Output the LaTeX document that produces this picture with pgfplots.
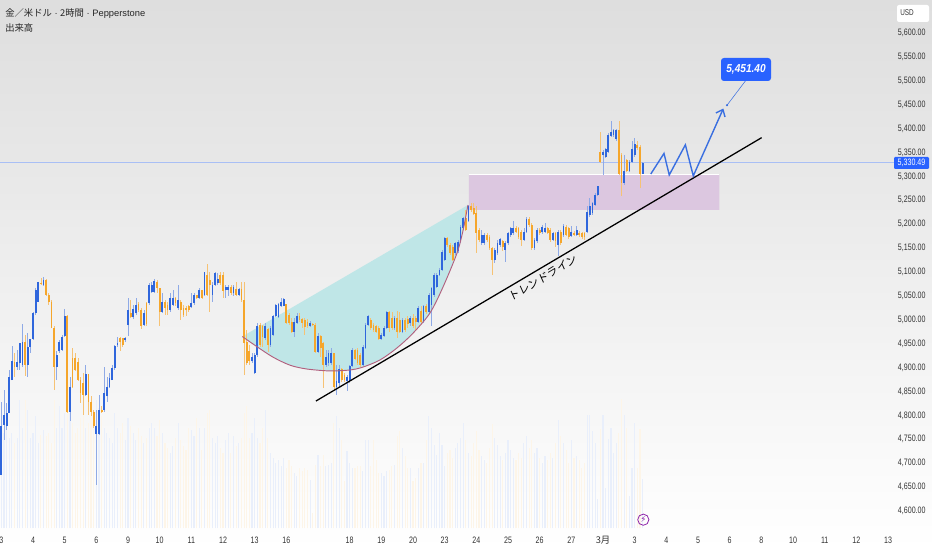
\documentclass[border=0pt]{standalone}
\usepackage{fontspec}
\usepackage{pgfplots}
\usepackage{pgfplotstable}
\pgfplotsset{compat=1.18}
\usetikzlibrary{arrows.meta}
\setmainfont{Liberation Sans}
\newfontfamily\tickf[FakeStretch=0.76]{Liberation Sans}
\newfontfamily\calloutf[FakeStretch=0.88]{Liberation Sans}
\newfontfamily\cjk{Noto Sans CJK JP}
\newfontfamily\cjkslant[FakeSlant=0.12]{Noto Sans CJK JP}
\newfontfamily\djv{DejaVu Sans}
\definecolor{candleup}{HTML}{2F66DC}
\definecolor{candledn}{HTML}{F5A62B}
\definecolor{wickup}{HTML}{8FAAE6}
\definecolor{wickdn}{HTML}{F6C274}
\definecolor{volup}{HTML}{E9EFFB}
\definecolor{voldn}{HTML}{FDF5E8}
\definecolor{tealfill}{HTML}{BFE6E7}
\definecolor{curvec}{HTML}{B0607E}
\definecolor{pinkbox}{HTML}{DCC7E0}
\definecolor{tagblue}{HTML}{2962FF}
\definecolor{zigblue}{HTML}{3A6FE0}
\definecolor{priceline}{HTML}{A9BFF5}
\definecolor{bolt}{HTML}{8E24AA}
\definecolor{ticktxt}{HTML}{333333}
\pgfplotstableread{
x open high low close vol
0 4676 4829 4676 4777 100
1 4780 4853 4749 4801 95
2 4777 4826 4770 4806 117
3 4806 4895 4806 4881 90
4 4874 4945 4874 4913 95
6 4901 4937 4895 4911 90
7 4909 4951 4895 4951 128
8 4906 4991 4902 4954 100
10 4906 4972 4881 4944 118
11 4944 4960 4931 4960 90
12 4960 5017 4958 5014 95
13 5014 5066 5010 5063 112
14 5038 5080 5038 5080 85
16 5073 5090 5070 5083 98
21 4902 4934 4874 4927 100
22 4934 4958 4930 4954 122
23 4937 4968 4934 4964 100
24 4966 5022 4965 5007 115
26 4808 4881 4789 4860 115
32 4843 4906 4840 4887 100
36 4761 4812 4655 4777 128
37 4761 4843 4759 4812 120
39 4812 4901 4808 4846 100
40 4840 4881 4829 4860 95
41 4860 4888 4857 4878 90
42 4874 4906 4874 4899 85
43 4899 4948 4895 4945 115
44 4948 4965 4944 4952 100
47 4958 4964 4954 4961 88
48 4989 5045 4966 5021 110
50 5005 5031 5001 5022 95
51 5014 5045 5010 5031 88
54 4989 5021 4986 5014 85
56 5035 5076 5031 5073 100
57 5059 5080 5056 5073 105
58 5059 5085 5056 5082 100
61 5017 5056 5014 5038 95
64 5021 5056 5017 5045 75
65 5031 5062 5028 5045 82
67 5024 5073 5021 5042 105
72 5026 5056 5024 5036 98
73 5036 5057 5031 5052 92
75 5045 5066 5043 5062 100
77 5052 5101 5049 5099 100
80 5052 5080 5038 5073 90
81 5073 5099 5070 5097 85
82 5078 5097 5073 5085 92
85 5063 5073 5045 5068 88
86 5063 5073 5049 5068 95
88 5055 5073 5049 5068 92
90 5052 5066 5050 5064 85
95 4913 4930 4909 4923 95
96 4888 4930 4886 4926 110
97 4926 4993 4923 4987 90
100 4961 4993 4958 4986 118
102 4947 4986 4944 4982 75
103 4968 5010 4966 5008 70
104 5008 5033 5005 5031 65
105 5005 5035 5003 5033 68
106 5028 5045 5026 5038 62
107 5029 5045 5028 5043 70
111 4975 5003 4965 4996 55
112 4993 5014 4991 5007 52
117 4986 4998 4984 4994 48
120 4933 4972 4930 4967 73
123 4906 4937 4902 4923 62
124 4909 4937 4903 4930 63
125 4909 4940 4906 4930 65
127 4860 4906 4843 4871 112
128 4867 4906 4860 4898 100
131 4871 4885 4850 4881 77
132 4871 4906 4867 4904 65
133 4904 4940 4902 4937 60
137 4906 4947 4903 4944 57
138 4940 4993 4938 4989 88
139 4989 5010 4986 5007 88
144 4959 4972 4958 4968 55
145 4966 4986 4965 4982 52
146 4982 5019 4980 5017 57
149 4982 5007 4979 5003 63
152 4975 5003 4973 5000 80
155 4993 5008 4986 5003 60
158 4996 5028 4993 5024 60
160 4996 5031 4994 5028 65
162 5017 5055 5012 5052 112
163 5031 5069 4988 5066 100
164 5052 5097 5048 5094 83
165 5069 5097 5066 5094 73
166 5094 5108 5092 5104 95
167 5104 5146 5103 5142 83
168 5125 5174 5122 5172 62
172 5139 5163 5136 5161 80
173 5143 5167 5139 5163 85
174 5163 5198 5160 5195 90
175 5191 5216 5188 5212 105
177 5207 5240 5205 5237 75
182 5160 5188 5156 5177 72
183 5161 5181 5156 5177 68
187 5125 5150 5118 5146 90
188 5139 5167 5136 5160 83
189 5157 5171 5153 5168 72
191 5146 5164 5120 5160 75
192 5160 5184 5157 5181 88
193 5177 5195 5174 5191 78
194 5181 5207 5177 5191 70
198 5167 5191 5164 5184 85
199 5184 5214 5181 5210 92
202 5150 5171 5147 5167 75
203 5164 5191 5160 5188 80
205 5183 5198 5180 5195 65
206 5183 5203 5181 5191 72
209 5167 5184 5164 5181 70
211 5157 5188 5134 5184 108
213 5177 5200 5174 5196 85
216 5175 5196 5173 5184 88
218 5177 5196 5175 5188 72
222 5184 5238 5181 5226 113
223 5219 5254 5216 5237 113
224 5223 5247 5219 5244 97
225 5240 5265 5237 5261 85
226 5261 5280 5259 5279 29
228 5345 5355 5303 5350 113
229 5341 5359 5338 5357 40
230 5352 5390 5348 5387 89
231 5385 5416 5382 5392 100
232 5387 5400 5383 5396 75
233 5378 5400 5375 5396 85
236 5286 5345 5282 5312 113
238 5312 5334 5310 5331 32
239 5331 5373 5327 5357 60
240 5345 5380 5341 5368 105
243 5306 5331 5305 5329 49
}\upcandles
\pgfplotstableread{
x open high low close vol
5 4911 4930 4881 4901 85
9 4954 4968 4883 4906 128
15 5078 5087 5073 5075 93
17 5083 5085 5049 5052 92
18 5052 5056 5031 5038 95
19 5038 5042 4982 4982 85
20 4982 4986 4853 4902 128
25 5007 5010 4806 4808 120
27 4920 4941 4857 4860 105
28 4920 4930 4892 4895 95
29 4911 4920 4871 4874 100
30 4874 4881 4826 4846 110
31 4867 4888 4801 4843 120
33 4887 4887 4801 4829 105
34 4829 4840 4798 4808 112
35 4808 4812 4773 4777 110
38 4812 4819 4805 4808 112
45 4961 4964 4934 4954 95
46 4961 4961 4944 4948 105
49 5014 5042 5003 5005 102
52 5033 5038 5017 5021 100
53 5021 5024 4980 4987 92
55 5036 5038 4988 4991 90
59 5080 5083 5056 5066 92
60 5066 5066 4986 5017 108
62 5038 5042 5010 5024 85
63 5031 5038 5010 5021 80
66 5045 5048 5029 5035 90
68 5038 5042 4999 5021 88
69 5024 5031 5005 5010 82
70 5024 5028 5008 5021 78
71 5028 5031 5017 5021 100
74 5052 5052 5043 5045 110
76 5062 5062 5043 5045 78
78 5094 5116 5049 5052 115
79 5083 5101 5017 5073 118
83 5094 5099 5073 5076 80
84 5094 5099 5045 5061 75
87 5068 5073 5052 5055 75
89 5064 5080 5049 5052 82
91 5064 5080 5038 5041 90
92 5041 5080 4885 4951 115
93 4954 4979 4906 4909 122
94 4934 4948 4906 4913 90
98 4989 4994 4944 4947 85
99 4986 4989 4944 4965 100
101 4980 4982 4933 4947 90
108 5032 5034 4991 4993 60
109 5010 5014 4989 4993 68
110 4996 5003 4972 4975 62
113 5008 5014 4996 5000 60
114 5001 5003 4982 4994 57
115 5000 5003 4968 4984 60
116 4996 5001 4982 4986 58
118 4991 4994 4986 4989 15
119 4989 4993 4930 4933 63
121 4967 4968 4923 4940 62
122 4952 4954 4857 4906 73
126 4930 4931 4853 4860 105
129 4898 4900 4870 4874 88
130 4885 4888 4869 4873 47
134 4936 4938 4916 4919 60
135 4936 4940 4906 4909 62
136 4926 4930 4902 4906 62
140 5000 5003 4979 4982 62
141 4989 4993 4975 4979 88
142 4986 4989 4972 4975 68
143 4982 4986 4958 4959 55
147 5017 5019 4975 4982 58
148 5003 5017 4979 4982 62
150 5003 5019 4961 4975 92
151 5000 5017 4972 4975 97
153 5000 5003 4975 4979 72
154 5001 5007 4982 4991 60
156 5003 5013 4982 4986 47
157 5003 5008 4979 4996 50
159 5019 5029 4994 4996 65
161 5028 5034 5012 5017 88
169 5172 5174 5153 5156 75
170 5156 5160 5136 5139 78
171 5153 5156 5122 5125 70
176 5212 5230 5186 5188 88
178 5237 5244 5226 5230 72
179 5233 5245 5219 5221 85
180 5223 5238 5139 5181 97
181 5187 5192 5163 5167 78
184 5177 5181 5163 5167 65
185 5174 5177 5146 5150 80
186 5150 5153 5094 5125 104
190 5164 5167 5143 5153 68
195 5193 5196 5181 5184 68
196 5191 5195 5170 5174 75
197 5184 5188 5154 5167 70
200 5210 5216 5195 5198 80
201 5198 5202 5145 5150 88
204 5188 5191 5177 5181 70
207 5191 5195 5181 5182 68
208 5188 5191 5163 5167 75
210 5181 5184 5153 5164 85
212 5184 5188 5157 5160 92
214 5195 5198 5175 5177 78
215 5191 5195 5168 5173 65
217 5182 5186 5175 5177 70
219 5182 5186 5174 5177 68
220 5182 5184 5168 5173 60
221 5181 5184 5167 5173 65
227 5350 5392 5327 5331 99
234 5396 5416 5303 5306 95
235 5345 5348 5259 5286 129
237 5334 5336 5310 5312 100
241 5366 5373 5356 5359 60
242 5362 5366 5275 5306 99
}\downcandles
\begin{document}
\begin{tikzpicture}
\useasboundingbox (0,0) rectangle (699pt,412.5pt);
\shade[top color=black!13, middle color=black!5, bottom color=white, shading angle=0] (0,0) rectangle (699pt,412.5pt);
% volume pane
\begin{axis}[at={(0,0)},anchor=south west,scale only axis,width=699pt,height=412.5pt,
  hide axis,xmin=-0.504,xmax=352.66,ymin=-22,ymax=528]
\addplot[ycomb,draw=volup,line width=0.85pt,mark=none] table[x=x,y=vol]{\upcandles};
\addplot[ycomb,draw=voldn,line width=0.85pt,mark=none] table[x=x,y=vol]{\downcandles};
\end{axis}
% price pane
\begin{axis}[at={(0,0)},anchor=south west,scale only axis,width=699pt,height=412.5pt,
  xmin=-0.504,xmax=352.66,ymin=4518.4,ymax=5669,
  axis line style={draw=none},tick style={draw=none},major tick length=0pt,
  xtick={0,12,24,36,48,60,72,84,96,108,132,144,156,168,180,192,204,216,228,240,252,264,276,288,300,312,324,336},
  xticklabels={3,4,5,6,9,10,11,12,13,16,18,19,20,23,24,25,26,27,{\cjk 3月},3,4,5,6,8,10,11,12,13},
  x tick label style={font=\tickf\fontsize{7}{8}\selectfont,text=ticktxt,anchor=base,yshift=5pt,inner sep=0pt},
  ytick={4600,4650,...,5600},
  yticklabel pos=right,
  y tick label style={font=\tickf\fontsize{7}{8}\selectfont,text=ticktxt,anchor=east,xshift=-4.6pt,inner sep=0pt,
    /pgf/number format/.cd,fixed,fixed zerofill,precision=2,1000 sep={,},assume math mode=true},
]
% last price line
\addplot[priceline,line width=0.75pt,mark=none] coordinates {(-0.504,5328) (338.5,5328)};
% demand zone
\addplot[fill=pinkbox,draw=none,mark=none] coordinates {(177.2,5303) (272.1,5303) (272.1,5230) (177.2,5230) (177.2,5303)};
\addplot[white,line width=0.5pt,mark=none] coordinates {(177.2,5304) (272.1,5304)};
% teal wedge
\addplot[fill=tealfill,draw=none,mark=none] coordinates {(91.3,4965) (96.8,4944) (102.9,4922) (109.4,4905) (115.8,4897) (124.5,4893) (132.1,4895) (137,4901) (143.5,4916) (149.9,4941) (156,4972) (162.4,5014) (167.4,5069) (172.7,5140) (175,5188) (176.8,5240) (91.3,4965)};
% wicks
\addplot[draw=none,mark=none,error bars/.cd,y dir=both,y explicit,error mark=none,error bar style={wickup,line width=0.5pt}]
  table[x=x,y=close,y error plus expr=\thisrow{high}-\thisrow{close},y error minus expr=\thisrow{close}-\thisrow{low}]{\upcandles};
\addplot[draw=none,mark=none,error bars/.cd,y dir=both,y explicit,error mark=none,error bar style={wickdn,line width=0.5pt}]
  table[x=x,y=close,y error plus expr=\thisrow{high}-\thisrow{close},y error minus expr=\thisrow{close}-\thisrow{low}]{\downcandles};
% bodies
\addplot[draw=none,mark=none,error bars/.cd,y dir=plus,y explicit,error mark=none,error bar style={candleup,line width=1.35pt}]
  table[x=x,y=open,y error plus expr=\thisrow{close}-\thisrow{open}]{\upcandles};
\addplot[draw=none,mark=none,error bars/.cd,y dir=minus,y explicit,error mark=none,error bar style={candledn,line width=1.35pt}]
  table[x=x,y=open,y error minus expr=\thisrow{open}-\thisrow{close}]{\downcandles};
% rounding-bottom curve
\addplot[curvec,line width=0.7pt,smooth,mark=none] coordinates {(91.3,4965) (96.8,4944) (102.9,4922) (109.4,4905) (115.8,4897) (124.5,4893) (132.1,4895) (137,4901) (143.5,4916) (149.9,4941) (156,4972) (162.4,5014) (167.4,5069) (172.7,5140) (175,5188) (176.8,5240)};
% trend line
\addplot[black,line width=0.95pt,mark=none] coordinates {(119.2,4830) (288.1,5381)};
% projected path
\addplot[zigblue,line width=1.05pt,mark=none,-{Straight Barb[length=4.5pt,width=7.5pt]}] coordinates {(246.1,5305) (251.1,5348) (253.1,5303) (259.2,5366) (262.2,5301) (273.6,5442)};
% leader to the callout
\addplot[zigblue,line width=0.4pt,mark=none] coordinates {(275,5449) (282,5500)};
\addplot[only marks,mark=*,mark size=0.6pt,zigblue] coordinates {(275,5449)};
\end{axis}
\begin{scope}[x=0.75pt,y=-0.75pt,shift={(0,412.5pt)}]
\node[anchor=west,inner sep=0pt,text=black!85] at (5,14) {\fontsize{7}{8}\selectfont{\cjk 金／米ドル} · {\cjk 2時間} · Pepperstone};
\node[anchor=west,inner sep=0pt,text=black!85] at (5,28) {\cjk\fontsize{7}{8}\selectfont 出来高};
\fill[white,rounded corners=1.5pt] (897,5) rectangle (929,22);
\node[inner sep=0pt,text=ticktxt] at (907,13) {\tickf\fontsize{6.3}{7}\selectfont USD};
\fill[tagblue,rounded corners=0.8pt] (894,157) rectangle (929,169);
\node[inner sep=0pt,text=white] at (911.5,163) {\tickf\fontsize{7}{8}\selectfont 5,330.49};
\fill[tagblue,rounded corners=2.2pt] (721,58) rectangle (771,81);
\node[inner sep=0pt,text=white] at (746,69.5) {\calloutf\bfseries\itshape\fontsize{8.6}{10}\selectfont 5,451.40};
\node[rotate=31,inner sep=0pt,text=black] at (543,278) {\cjkslant\fontsize{8.3}{10}\selectfont トレンドライン};
\draw[bolt,line width=0.6pt] (643.3,519.7) circle (5.6);
\node[inner sep=0pt,text=bolt] at (643.3,519.7) {\djv\fontsize{6.5}{7}\selectfont ⚡};
\end{scope}
\end{tikzpicture}
\end{document}
